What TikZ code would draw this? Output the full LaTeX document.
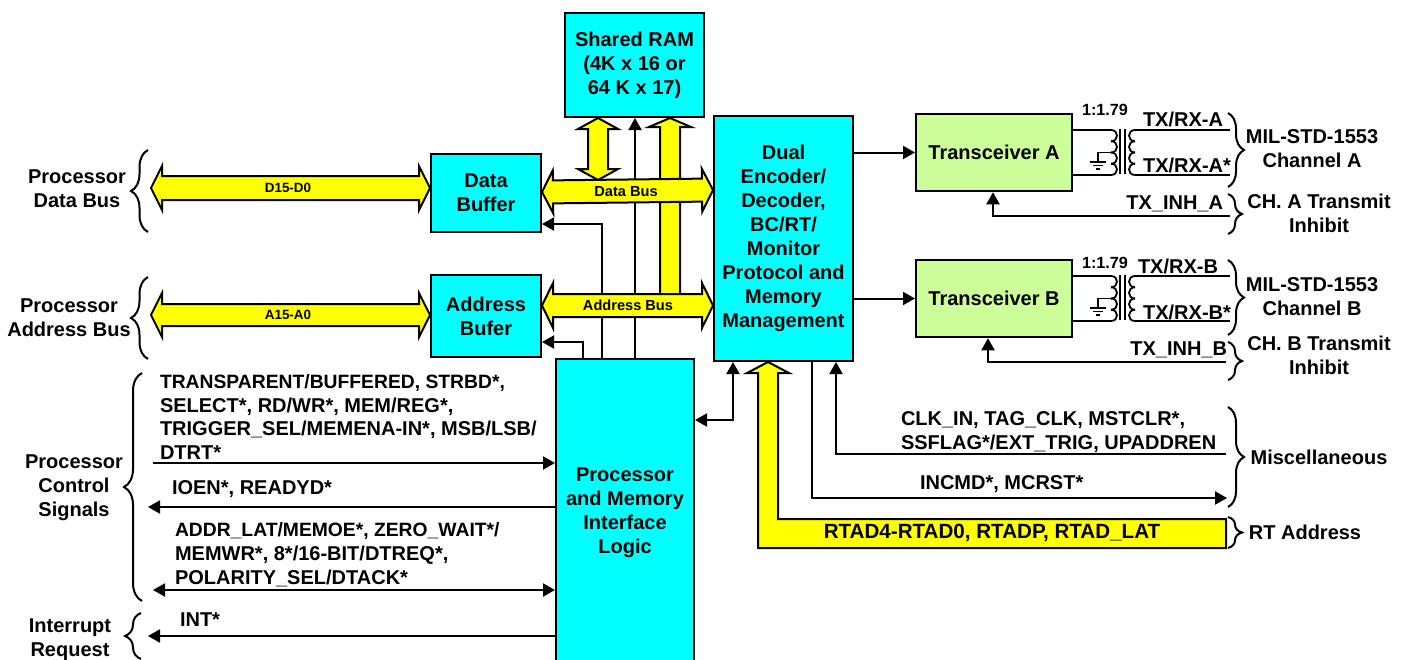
\documentclass[tikz,border=0pt]{standalone}
\usepackage{fontspec}
\setmainfont{Liberation Sans}
\usetikzlibrary{arrows.meta,calc,decorations.pathreplacing}
\definecolor{busyellow}{RGB}{255,255,0}
\definecolor{boxcyan}{RGB}{0,255,255}
\definecolor{xcvrgreen}{RGB}{204,255,153}
% fat bus arrows: from, to, half body, half head
\newcommand{\fatboth}[4]{%
  \draw[bus] (#1) -- ($(#1)!11pt!(#2)!#4!90:(#2)$) -- ($(#1)!11pt!(#2)!#3!90:(#2)$)
    -- ($(#2)!11pt!(#1)!#3!-90:(#1)$) -- ($(#2)!11pt!(#1)!#4!-90:(#1)$) -- (#2)
    -- ($(#2)!11pt!(#1)!#4!90:(#1)$) -- ($(#2)!11pt!(#1)!#3!90:(#1)$)
    -- ($(#1)!11pt!(#2)!#3!-90:(#2)$) -- ($(#1)!11pt!(#2)!#4!-90:(#2)$) -- cycle;}
\newcommand{\tighter}{\fontsize{19.3}{23.8}\selectfont}
\begin{document}
\begin{tikzpicture}[
        x=1pt, y=-1pt, % reference pixels
        line width=2pt,
        txt/.style={font=\fontsize{20}{24}\selectfont\bfseries, inner sep=0pt},
        box/.style={txt, rectangle, draw=black, fill=boxcyan, align=center},
        xcvr/.style={box, fill=xcvrgreen, minimum width=156pt, minimum height=77.5pt},
        lbl/.style={txt, align=center},
        sig/.style={txt, align=left, anchor=west},
        sigleft/.style={sig, font=\fontsize{20}{23.8}\selectfont\bfseries},
        buslbl/.style={font=\fontsize{14.6}{16}\selectfont\bfseries, inner sep=0pt},
        tinylbl/.style={font=\fontsize{13.4}{15}\selectfont\bfseries, inner sep=0pt},
        bus/.style={draw=black, fill=busyellow, line join=miter},
        conn/.style={draw=black, -{Triangle[length=12pt,width=13pt]}},
        both/.style={draw=black, {Triangle[length=12pt,width=13pt]}-{Triangle[length=12pt,width=13pt]}},
        wire/.style={draw=black, line width=1.8pt},
        bracel/.style={decorate, decoration={brace, amplitude=#1}},
    ]
    \clip (0,0) rectangle (1410,659);

    % Main blocks
    \node[box, minimum width=139pt, minimum height=104pt] (ram) at (634.5,65) {Shared RAM\\(4K x 16 or\\64 K x 17)};
    \node[box, minimum width=139pt, minimum height=245pt] (dual) at (783.5,238.5) {Dual\\Encoder/\\Decoder,\\BC/RT/\\Monitor\\Protocol and\\Memory\\Management};
    \node[box, minimum width=110pt, minimum height=78pt] (dbuf) at (486,193) {Data\\Buffer};
    \node[box, minimum width=110pt, minimum height=82pt] (abuf) at (486,316) {Address\\Bufer};
    \node[box, minimum width=138pt, minimum height=308pt] (logic) at (625,513) {Processor\\and Memory\\Interface\\Logic};

    % Lines that run behind the buses
    \draw[conn] (635,0 |- logic.north) -- (635,0 |- ram.south);
    \draw[conn] (602,0 |- logic.north) |- (dbuf.east |- 0,224);
    \draw[conn] (583,0 |- logic.north) |- (abuf.east |- 0,342);
    \draw[both] (logic.east |- 0,420) -| (733,0 |- dual.south);

    % Shared RAM buses
    \coordinate (ramtop) at (598,118);
    \coordinate (rambot) at (598,180);
    \fatboth{ramtop}{rambot}{10pt}{20pt}
    \draw[bus] (670,118) -- (691,127) -- (680,127) -- (680,300) -- (660,300) -- (660,127) -- (649,127) -- cycle;

    % Local buses
    \coordinate (dbusl) at (dbuf.east |- 0,192);
    \coordinate (dbusr) at (dual.west |- 0,190);
    \coordinate (abusl) at (abuf.east |- 0,305.5);
    \coordinate (abusr) at (dual.west |- 0,305.5);
    \fatboth{dbusl}{dbusr}{11.5pt}{21.5pt}
    \fatboth{abusl}{abusr}{11.5pt}{22.5pt}
    \node[buslbl] (dbuslbl) at (626,191.5) {Data Bus};
    \node[buslbl] (abuslbl) at (628,305) {Address Bus};

    % Processor side buses
    \coordinate (dpl) at (151,188);
    \coordinate (dpr) at (dbuf.west |- 0,188);
    \coordinate (apl) at (151,315);
    \coordinate (apr) at (abuf.west |- 0,315);
    \fatboth{dpl}{dpr}{12pt}{22pt}
    \fatboth{apl}{apr}{11pt}{22pt}
    \node[tinylbl] (dplbl) at (288,188) {D15-D0};
    \node[tinylbl] (aplbl) at (288,315) {A15-A0};

    % Processor labels and braces
    \node[lbl] (pdata) at (77,189) {Processor\\Data Bus};
    \node[lbl] (paddr) at (69,317.5) {Processor\\Address Bus};
    \node[lbl] (pctrl) at (74,488) {Processor\\Control\\Signals};
    \node[lbl] (pint) at (70,640) {Interrupt\\Request};
    \draw[bracel=17pt] (148,232) -- (148,150);
    \draw[bracel=17pt] (148,359) -- (148,277);
    \draw[bracel=18pt] (142,601) -- (142,373);
    \draw[bracel=16pt] (141,659) -- (141,613);

    % Processor signals
    \node[sigleft] (sigin) at (159,417) {{\tighter TRANSPARENT/BUFFERED, STRBD*,}\\SELECT*, RD/WR*, MEM/REG*,\\TRIGGER\_SEL/MEMENA-IN*, MSB/LSB/\\DTRT*};
    \coordinate (sigins) at (153,463);
    \draw[conn] (sigins) -- (logic.west |- sigins);
    \node[sig] (sigout) at (171,489) {IOEN*, READYD*};
    \coordinate (sigoute) at (148,507);
    \draw[conn] (logic.west |- sigoute) -- (sigoute);
    \node[sigleft] (sigbi) at (174,555) {{\tighter ADDR\_LAT/MEMOE*, ZERO\_WAIT*/}\\MEMWR*, 8*/16-BIT/DTREQ*,\\POLARITY\_SEL/DTACK*};
    \coordinate (sigbie) at (153,590);
    \draw[both] (sigbie) -- (logic.west |- sigbie);
    \node[sig] (sigint) at (179,620) {INT*};
    \coordinate (siginte) at (148,636);
    \draw[conn] (logic.west |- siginte) -- (siginte);

    % Transceivers with their transformers
    \foreach \ch/\yy/\xinh/\yinh/\xend/\ytop/\ystar/\xtop/\xinhr/\yratio in {A/0/993/216/1230/119/165/1183/1224/110, B/146/988/362/1226/266/312/1178/1228/263} {
        \node[xcvr] (xcvr\ch) at (994,152.5+\yy) {Transceiver \ch};
        \draw[conn] (dual.east |- xcvr\ch.west) -- (xcvr\ch.west);
        \draw[wire] (xcvr\ch.east |- 0,130+\yy) -- (1111,130+\yy);
        \draw[wire] (xcvr\ch.east |- 0,175+\yy) -- (1111,175+\yy);
        \draw[wire] (1135,130+\yy) -- (1230,130+\yy);
        \draw[wire] (1135,175+\yy) -- (1230,175+\yy);
        \draw[wire] (1120,129+\yy) -- (1120,174+\yy);
        \draw[wire] (1125,129+\yy) -- (1125,174+\yy);
        \foreach \k in {0,1,2,3} {
            \draw[wire] (1111,130+11.25*\k+\yy) .. controls (1119,130+11.25*\k+\yy) and (1119,141.25+11.25*\k+\yy) .. (1111,141.25+11.25*\k+\yy);
            \draw[wire] (1135,130+11.25*\k+\yy) .. controls (1127,130+11.25*\k+\yy) and (1127,141.25+11.25*\k+\yy) .. (1135,141.25+11.25*\k+\yy);
        }
        % ground
        \draw[wire] (1111,152.5+\yy) -- (1098,152.5+\yy) -- (1098,162+\yy);
        \draw[wire] (1090,162+\yy) -- (1106,162+\yy);
        \draw[wire] (1093,165.5+\yy) -- (1103,165.5+\yy);
        \draw[wire] (1096,169+\yy) -- (1100,169+\yy);
        \node[tinylbl, font=\fontsize{16.2}{18}\selectfont\bfseries] (ratio\ch) at (1105,\yratio) {1:1.79};
        \node[lbl] (txrx\ch) at (\xtop,\ytop) {TX/RX-\ch};
        \node[lbl] (txrxn\ch) at (1187,\ystar) {TX/RX-\ch*};
        \draw[conn] (\xend,\yinh) -| (\xinh,0 |- xcvr\ch.south);
        \node[lbl, anchor=east] (inh\ch) at (\xinhr,\yinh-12) {TX\_INH\_\ch};
    }
    \node[lbl] (mila) at (1312,149) {MIL-STD-1553\\Channel A};
    \node[lbl] (milb) at (1312,296.5) {MIL-STD-1553\\Channel B};
    \node[lbl] (chinha) at (1319,213) {CH. A Transmit\\Inhibit};
    \node[lbl] (chinhb) at (1319,355) {CH. B Transmit\\Inhibit};
    \draw[bracel=16pt] (1228,113) -- (1228,187);
    \draw[bracel=14pt] (1228,194) -- (1228,234);
    \draw[bracel=16pt] (1228,260) -- (1228,335);
    \draw[bracel=14pt] (1228,342) -- (1228,380);

    % Lower right signals
    \coordinate (clkend) at (1226,454);
    \coordinate (incend) at (1227,498);
    \draw[conn] (clkend) -| (836,0 |- dual.south);
    \draw[conn] (812,0 |- dual.south) |- (incend);
    \node[sig] (clksig) at (900,432) {CLK\_IN, TAG\_CLK, MSTCLR*,\\SSFLAG*/EXT\_TRIG, UPADDREN};
    \node[sig] (incsig) at (919,484) {INCMD*, MCRST*};
    \node[lbl] (misc) at (1319,457) {Miscellaneous};
    \draw[bracel=16pt] (1228,407) -- (1228,507);

    % RT address bus
    \draw[bus] (768,362) -- (789,373) -- (778,373) -- (778,519) -- (1226,519) -- (1226,548) -- (758,548) -- (758,373) -- (747,373) -- cycle;
    \node[lbl, font=\fontsize{20.6}{24}\selectfont\bfseries] (rtadlbl) at (992,533) {RTAD4-RTAD0, RTADP, RTAD\_LAT};
    \node[lbl] (rtaddr) at (1305,532) {RT Address};
    \draw[bracel=14pt] (1228,517) -- (1228,548);

\end{tikzpicture}
\end{document}
